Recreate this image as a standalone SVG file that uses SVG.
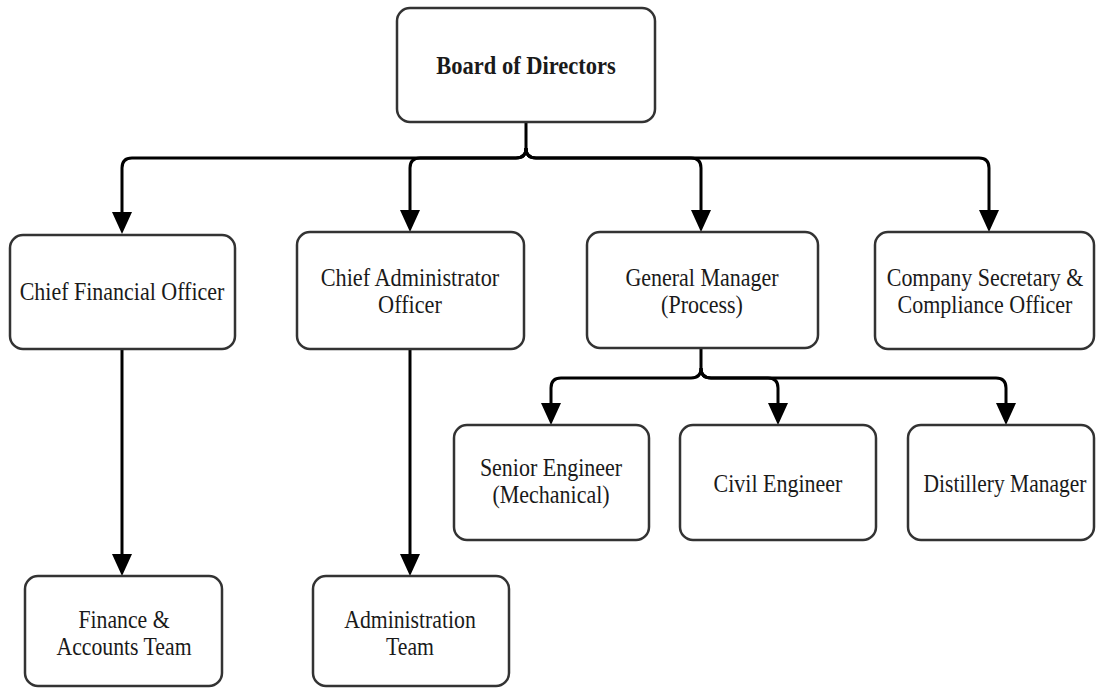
<svg xmlns="http://www.w3.org/2000/svg" width="1096" height="688" viewBox="0 0 1096 688">
<style>
.box{fill:#fff;stroke:#333;stroke-width:2.5}
.t{font-family:"Liberation Serif","Times New Roman",serif;font-size:25px;fill:#1a1a1a;text-anchor:middle}
.b{font-weight:bold}
.c{fill:none;stroke:#000;stroke-width:3}
</style>
<defs>
<marker id="ah" markerUnits="userSpaceOnUse" markerWidth="22" markerHeight="20" refX="0" refY="10" orient="auto" viewBox="0 0 22 20">
<path d="M0,0 L22,10 L0,20 z" fill="#000"/>
</marker>
</defs>
<rect width="1096" height="688" fill="#fff"/>
<g id="connectors">
<path class="c" marker-end="url(#ah)" d="M526,122 V148 Q526,158 516,158 H132 Q122,158 122,168 V212"/>
<path class="c" marker-end="url(#ah)" d="M526,148 Q526,158 516,158 H420 Q410,158 410,168 V210"/>
<path class="c" marker-end="url(#ah)" d="M526,148 Q526,158 536,158 H691 Q701,158 701,168 V210"/>
<path class="c" marker-end="url(#ah)" d="M526,148 Q526,158 536,158 H979 Q989,158 989,168 V210"/>
<path class="c" marker-end="url(#ah)" d="M701,348 V368 Q701,378 691,378 H561 Q551,378 551,388 V403"/>
<path class="c" marker-end="url(#ah)" d="M701,368 Q701,378 711,378 H768 Q778,378 778,388 V403"/>
<path class="c" marker-end="url(#ah)" d="M701,368 Q701,378 711,378 H996 Q1006,378 1006,388 V403"/>
<path class="c" marker-end="url(#ah)" d="M122,349 V554"/>
<path class="c" marker-end="url(#ah)" d="M410,349 V554"/>
</g>
<g id="board"><rect class="box" x="397" y="8" width="258" height="114" rx="13"/><text class="t b" transform="translate(526,74) scale(0.9,1)">Board of Directors</text></g>
<g id="cfo"><rect class="box" x="10" y="235" width="225" height="114" rx="13"/><text class="t" transform="translate(122,300) scale(0.88,1)">Chief Financial Officer</text></g>
<g id="cao"><rect class="box" x="297" y="232" width="227" height="117" rx="13"/><text class="t" transform="translate(410,286) scale(0.89,1)"><tspan x="0">Chief Administrator</tspan><tspan x="0" dy="27">Officer</tspan></text></g>
<g id="gm"><rect class="box" x="587" y="232" width="231" height="116" rx="13"/><text class="t" transform="translate(702,286) scale(0.88,1)"><tspan x="0">General Manager</tspan><tspan x="0" dy="27">(Process)</tspan></text></g>
<g id="cs"><rect class="box" x="875" y="232" width="219" height="117" rx="13"/><text class="t" transform="translate(985,286) scale(0.88,1)"><tspan x="0">Company Secretary &amp;</tspan><tspan x="0" dy="27">Compliance Officer</tspan></text></g>
<g id="senior"><rect class="box" x="454" y="425" width="195" height="115" rx="13"/><text class="t" transform="translate(551,476) scale(0.88,1)"><tspan x="0">Senior Engineer</tspan><tspan x="0" dy="27">(Mechanical)</tspan></text></g>
<g id="civil"><rect class="box" x="680" y="425" width="196" height="115" rx="13"/><text class="t" transform="translate(778,492) scale(0.88,1)">Civil Engineer</text></g>
<g id="distillery"><rect class="box" x="908" y="425" width="186" height="115" rx="13"/><text class="t" transform="translate(1005,492) scale(0.86,1)">Distillery Manager</text></g>
<g id="finance"><rect class="box" x="25" y="576" width="197" height="110" rx="13"/><text class="t" transform="translate(124,628) scale(0.87,1)"><tspan x="0">Finance &amp;</tspan><tspan x="0" dy="27">Accounts Team</tspan></text></g>
<g id="admin"><rect class="box" x="313" y="576" width="196" height="110" rx="13"/><text class="t" transform="translate(410,628) scale(0.87,1)"><tspan x="0">Administration</tspan><tspan x="0" dy="27">Team</tspan></text></g>
</svg>
